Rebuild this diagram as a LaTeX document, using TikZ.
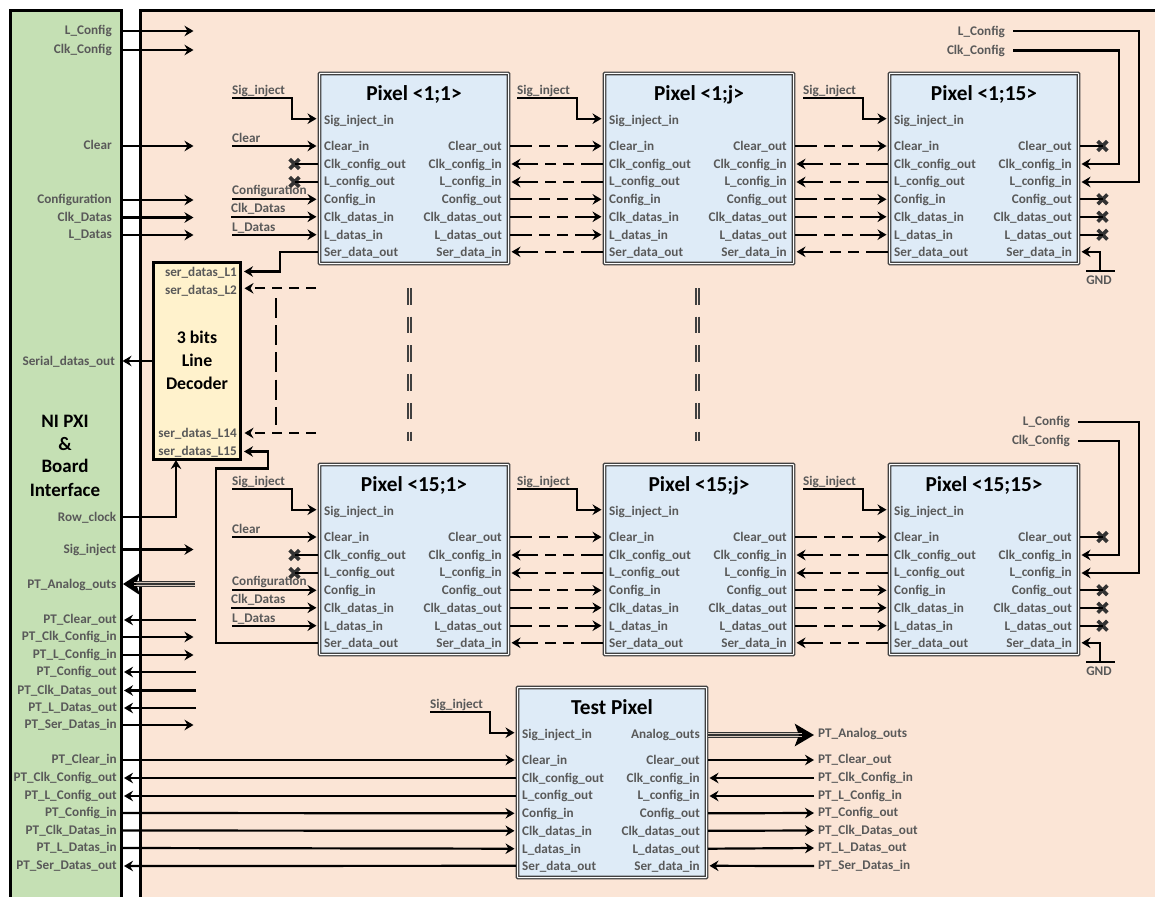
\documentclass[tikz,border=0pt]{standalone}
\usepackage{fontspec}
\setmainfont{Carlito}
\usetikzlibrary{arrows.meta,shapes.misc}
\definecolor{panelgreen}{HTML}{C5E0B4}
\definecolor{panelorange}{HTML}{FBE5D6}
\definecolor{pixelblue}{HTML}{DEEBF7}
\definecolor{decoyellow}{HTML}{FFF2CC}
\definecolor{labelgray}{HTML}{595959}
\tikzset{
  panelline/.style={line width=3pt,draw=black},
  wire/.style={line width=2.2pt,draw=black,line join=miter},
  arr/.style={wire,-{Stealth[length=9pt,width=10.5pt,inset=3pt]},shorten >=1.5pt},
  dashwire/.style={dash pattern=on 22pt off 7pt on 11pt off 7pt on 11pt off 7pt on 60pt},
  shortdash/.style={dash pattern=on 10pt off 7pt},
  lbl/.style={inner sep=0pt,yshift=-0.9pt,text=labelgray,font=\fontsize{13.2}{14}\selectfont\bfseries},
  lbR/.style={lbl,anchor=base east},
  lbL/.style={lbl,anchor=base west},
  pixelbox/.style={draw=black!75,line width=1.3pt,double=white,double distance=1pt,fill=pixelblue,inner sep=0pt,minimum width=189pt,minimum height=190pt,rounded corners=0.5pt},
  pixeltitle/.style={inner sep=0pt,anchor=base,yshift=-0.9pt,text=black,font=\fontsize{21.3}{24}\selectfont\bfseries},
  bigtext/.style={inner sep=0pt,anchor=base,text=black,font=\fontsize{19}{22}\selectfont\bfseries},
  decotext/.style={inner sep=0pt,anchor=base,yshift=-0.9pt,text=black,font=\fontsize{17.8}{20}\selectfont\bfseries},
  xmk/.style={cross out,draw=black!80,line width=3.6pt,minimum size=6pt,inner sep=0pt},
  bus/.style={line width=5.5pt,draw=black!80},
  busline/.style={line width=0.9pt,draw=panelorange!70!gray},
  dotted vert/.style={line width=1.4pt,draw=black!75,dash pattern=on 16.5pt off 12.2pt}
}
% #1 name, #2 x, #3 y, #4 title
\newcommand{\pixelblock}[4]{%
  \node[pixelbox] (#1) at (#2+96,#3+96.5) {};
  \node[pixeltitle] (#1-title) at (#2+96,#3+28) {#4};
  \coordinate (#1-sig) at (#2,#3+46.7);
  \coordinate (#1-cin) at (#2,#3+74);
  \coordinate (#1-cko) at (#2,#3+92);
  \coordinate (#1-lko) at (#2,#3+110);
  \coordinate (#1-cfi) at (#2,#3+127.3);
  \coordinate (#1-cdi) at (#2,#3+144.8);
  \coordinate (#1-ldi) at (#2,#3+162.7);
  \coordinate (#1-sdo) at (#2,#3+179.8);
  \coordinate (#1-cou) at (#2+192,#3+74);
  \coordinate (#1-cki) at (#2+192,#3+92);
  \coordinate (#1-lki) at (#2+192,#3+110);
  \coordinate (#1-cfo) at (#2+192,#3+127.3);
  \coordinate (#1-cdo) at (#2+192,#3+144.8);
  \coordinate (#1-ldo) at (#2+192,#3+162.7);
  \coordinate (#1-sdi) at (#2+192,#3+179.8);
  \node[lbL] (#1-l1) at (#2+6,#3+52) {Sig\_inject\_in};
  \node[lbL] (#1-l2) at (#2+6,#3+78) {Clear\_in};
  \node[lbL] (#1-l3) at (#2+6,#3+96) {Clk\_config\_out};
  \node[lbL] (#1-l4) at (#2+6,#3+113) {L\_config\_out};
  \node[lbL] (#1-l5) at (#2+6,#3+131) {Config\_in};
  \node[lbL] (#1-l6) at (#2+6,#3+149) {Clk\_datas\_in};
  \node[lbL] (#1-l7) at (#2+6,#3+167) {L\_datas\_in};
  \node[lbL] (#1-l8) at (#2+6,#3+184) {Ser\_data\_out};
  \node[lbR] (#1-r2) at (#2+184,#3+78) {Clear\_out};
  \node[lbR] (#1-r3) at (#2+184,#3+96) {Clk\_config\_in};
  \node[lbR] (#1-r4) at (#2+184,#3+113) {L\_config\_in};
  \node[lbR] (#1-r5) at (#2+184,#3+131) {Config\_out};
  \node[lbR] (#1-r6) at (#2+184,#3+149) {Clk\_datas\_out};
  \node[lbR] (#1-r7) at (#2+184,#3+167) {L\_datas\_out};
  \node[lbR] (#1-r8) at (#2+184,#3+184) {Ser\_data\_in};
}
% dashed links between neighbouring pixels
\newcommand{\pixellink}[2]{%
  \draw[arr,dashwire] (#1-cou) -- (#2-cin);
  \draw[arr,dashwire] (#2-cko) -- (#1-cki);
  \draw[arr,dashwire] (#2-lko) -- (#1-lki);
  \draw[arr,dashwire] (#1-cfo) -- (#2-cfi);
  \draw[arr,dashwire] (#1-cdo) -- (#2-cdi);
  \draw[arr,dashwire] (#1-ldo) -- (#2-ldi);
  \draw[arr,dashwire] (#2-sdo) -- (#1-sdi);
}
% stub ending in a cross: #1 pin, #2 x shift, #3 name
\newcommand{\crossstub}[3]{%
  \node[xmk] (#3) at ([xshift=#2pt]#1) {};
  \draw[wire] (#1) -- (#3.center);
}
% Sig_inject wire: #1 name, #2 x, #3 y of wire, #4 target pin
\newcommand{\siginject}[4]{%
  \node[lbL] (#1-lab) at (#2,#3-4.5) {Sig\_inject};
  \coordinate (#1-start) at (#2,#3);
  \coordinate (#1-knee) at (#2+60,#3);
  \draw[arr] (#1-start) -- (#1-knee) |- (#4);
}
% inputs of the first pixel of a row: #1 pixel, #2 y base
\newcommand{\rowinputs}[2]{%
  \node[lbL] (#1-clab) at (232,#2+69.7) {Clear};
  \coordinate (#1-cst) at (232,#2+74);
  \draw[arr] (#1-cst) -- (#1-cin);
  \node[lbL] (#1-flab) at (232,#2+122) {Configuration};
  \coordinate (#1-fst) at (232,#2+127.3);
  \draw[arr] (#1-fst) -- (#1-cfi);
  \node[lbL] (#1-dlab) at (231,#2+140) {Clk\_Datas};
  \coordinate (#1-dst) at (231,#2+144.8);
  \draw[arr] (#1-dst) -- (#1-cdi);
  \node[lbL] (#1-elab) at (232,#2+158.5) {L\_Datas};
  \coordinate (#1-est) at (232,#2+162.7);
  \draw[arr] (#1-est) -- (#1-ldi);
  \crossstub{#1-cko}{-23.5}{#1-xa}
  \crossstub{#1-lko}{-23.5}{#1-xb}
}
% right hand side of the last pixel: #1 pixel, #2 y of GND bar
\newcommand{\rowoutputs}[2]{%
  \crossstub{#1-cou}{22.5}{#1-xc}
  \crossstub{#1-cfo}{22.5}{#1-xd}
  \crossstub{#1-cdo}{22.5}{#1-xe}
  \crossstub{#1-ldo}{22.5}{#1-xf}
  \coordinate (#1-gl) at (1086,#2);
  \coordinate (#1-gr) at (1115,#2);
  \coordinate (#1-gc) at (1100,#2);
  \draw[wire] (#1-gl) -- (#1-gr);
  \draw[arr] (#1-gc) |- (#1-sdi);
  \node[lbl,anchor=base] (#1-gnd) at (1099,#2+12.5) {GND};
}
\begin{document}
\begin{tikzpicture}[x=1pt,y=-1pt]
\useasboundingbox (0,0) rectangle (1155,896);
\fill[white] (0,0) rectangle (1155,896);
% panels
\fill[panelgreen] (10.5,11) rectangle (121,900);
\draw[panelline] (10.5,900) -- (10.5,11) -- (121,11) -- (121,900);
\fill[panelorange] (140,11) rectangle (1155,900);
\draw[panelline] (140,900) -- (140,11) -- (1158,11);
% panel title
\node[bigtext] (ni1) at (65,427.5) {NI PXI};
\node[bigtext] (ni2) at (65,450) {\&};
\node[bigtext] (ni3) at (65,472.5) {Board};
\node[bigtext] (ni4) at (65,496) {Interface};

% pixel blocks
\pixelblock{pa}{318}{72}{Pixel <1;1>}
\pixelblock{pb}{603}{72}{Pixel <1;j>}
\pixelblock{pc}{888}{72}{Pixel <1;15>}
\pixelblock{pd}{318}{463}{Pixel <15;1>}
\pixelblock{pe}{603}{463}{Pixel <15;j>}
\pixelblock{pf}{888}{463}{Pixel <15;15>}
\pixelblock{pt}{516}{686}{Test Pixel}
\node[lbR] (pt-r1) at (700,738) {Analog\_outs};

% decoder
\node[draw=black,line width=3pt,fill=decoyellow,inner sep=0pt,minimum width=87pt,minimum height=197pt] (dec) at (197,361) {};
\node[decotext] (dec1) at (197,343) {3 bits};
\node[decotext] (dec2) at (197,366) {Line};
\node[decotext] (dec3) at (197,389) {Decoder};
\node[lbR] (dl1) at (237,275.5) {ser\_datas\_L1};
\node[lbR] (dl2) at (237,293.5) {ser\_datas\_L2};
\node[lbR] (dl14) at (237,437) {ser\_datas\_L14};
\node[lbR] (dl15) at (237,455) {ser\_datas\_L15};

% left panel rows
\foreach \n/\t/\y/\lx in {a/L\_Config/31/112,b/Clk\_Config/50/112,c/Clear/146/112,d/Configuration/200/112,e/Clk\_Datas/217.5/112,f/L\_Datas/235/112,g/Sig\_inject/549.5/116.5,h/PT\_Clk\_Config\_in/637/117,i/PT\_L\_Config\_in/655/117,j/PT\_Ser\_Datas\_in/725/117}{
  \node[lbR] (lab\n) at (\lx,\y+3) {\t};
  \coordinate (s\n) at (121,\y);
  \coordinate (e\n) at (195,\y);
  \draw[arr] (s\n) -- (e\n);
}
\foreach \n/\t/\y in {k/PT\_Clear\_out/620,l/PT\_Config\_out/672,m/PT\_Clk\_Datas\_out/690.5,n/PT\_L\_Datas\_out/708}{
  \node[lbR] (lab\n) at (117,\y+3) {\t};
  \coordinate (s\n) at (196,\y);
  \coordinate (e\n) at (124,\y);
  \draw[arr,shorten >=0pt] (s\n) -- (e\n);
}
% PT_Analog_outs bus
\node[lbR] (labbus) at (116.5,587.5) {PT\_Analog\_outs};
\coordinate (busa) at (195,584);
\coordinate (busb) at (123,584);
\coordinate (busc) at (134,584);
\draw[bus,-{Stealth[length=17pt,width=22pt,inset=4pt,black]}] (busa) -- (busb);
\draw[busline,transform canvas={yshift=1.2pt}] (busa) -- (busc);
\draw[busline,transform canvas={yshift=-1.2pt}] (busa) -- (busc);

% Serial_datas_out and Row_clock
\node[lbR] (labser) at (115,364.5) {Serial\_datas\_out};
\coordinate (serp) at (121,361);
\draw[arr] (dec.west |- serp) -- (serp);
\node[lbR] (labrow) at (116.5,520.5) {Row\_clock};
\coordinate (rows) at (121,517);
\coordinate (rowe) at (176,460);
\draw[arr,shorten >=0pt] (rows) -| (rowe);

% signal inputs row 1
\siginject{sa}{232}{98}{pa-sig}
\siginject{sb}{517}{98}{pb-sig}
\siginject{sc}{803}{98}{pc-sig}
\rowinputs{pa}{72}
\coordinate (l1p) at (242.5,271.5);
\coordinate (l1k) at (280,271.5);
\draw[arr] (pa-sdo) -| (l1k) -- (l1p);
\pixellink{pa}{pb}
\pixellink{pb}{pc}
\rowoutputs{pc}{271}
% configuration feed row 1
\node[lbR] (lc1) at (1005,34.5) {L\_Config};
\node[lbR] (lc2) at (1005,53.5) {Clk\_Config};
\coordinate (lc1s) at (1013,31);
\coordinate (lc2s) at (1013,50.5);
\coordinate (lc1k) at (1139,31);
\coordinate (lc2k) at (1119,50.5);
\draw[arr] (lc1s) -- (lc1k) |- (pc-lki);
\draw[arr] (lc2s) -- (lc2k) |- (pc-cki);

% signal inputs row 2
\siginject{sd}{232}{489}{pd-sig}
\siginject{se}{517}{489}{pe-sig}
\siginject{sf}{803}{489}{pf-sig}
\rowinputs{pd}{463}
\coordinate (l15k1) at (216,468.5);
\coordinate (l15k2) at (268,468.5);
\coordinate (l15p) at (242.5,451.5);
\draw[arr] (pd-sdo) -| (l15k1) -- (l15k2) |- (l15p);
\pixellink{pd}{pe}
\pixellink{pe}{pf}
\rowoutputs{pf}{662}
% configuration feed row 2
\node[lbR] (lc3) at (1070,425) {L\_Config};
\node[lbR] (lc4) at (1070,444) {Clk\_Config};
\coordinate (lc3s) at (1078,422);
\coordinate (lc4s) at (1078,441);
\coordinate (lc3k) at (1139,422);
\coordinate (lc4k) at (1119,441);
\draw[arr] (lc3s) -- (lc3k) |- (pf-lki);
\draw[arr] (lc4s) -- (lc4k) |- (pf-cki);

% decoder dashed rows
\coordinate (d2e) at (243,288.3);
\coordinate (d2s) at (316,288.3);
\coordinate (d14e) at (243,433);
\coordinate (d14s) at (316,433);
\coordinate (dvt) at (275.7,298);
\coordinate (dvb) at (275.7,425);
\draw[arr,shortdash] (d2s) -- (d2e);
\draw[arr,shortdash] (d14s) -- (d14e);
\draw[wire,dash pattern=on 20pt off 7.2pt] (dvt) -- (dvb);

% vertical ellipsis between rows
\coordinate (v1t) at (408,288);
\coordinate (v1b) at (408,441);
\coordinate (v2t) at (411,288);
\coordinate (v2b) at (411,441);
\coordinate (v3t) at (696,288);
\coordinate (v3b) at (696,441);
\coordinate (v4t) at (699,288);
\coordinate (v4b) at (699,441);
\draw[dotted vert] (v1t) -- (v1b);
\draw[dotted vert] (v2t) -- (v2b);
\draw[dotted vert] (v3t) -- (v3b);
\draw[dotted vert] (v4t) -- (v4b);

% test pixel
\siginject{st}{430}{712}{pt-sig}
\foreach \n/\t/\y/\p in {p/PT\_Clear\_in/760/cin,q/PT\_Config\_in/813/cfi,r/PT\_Clk\_Datas\_in/830.5/cdi,s/PT\_L\_Datas\_in/848/ldi}{
  \node[lbR] (lab\n) at (117,\y+3) {\t};
  \coordinate (s\n) at (121,\y);
  \draw[arr] (s\n) -- (pt-\p);
}
\foreach \n/\t/\y/\p in {t/PT\_Clk\_Config\_out/778/cko,u/PT\_L\_Config\_out/796/lko,v/PT\_Ser\_Datas\_out/866/sdo}{
  \node[lbR] (lab\n) at (117,\y+3) {\t};
  \coordinate (e\n) at (124,\y);
  \draw[arr,shorten >=0pt] (pt-\p) -- (e\n);
}
\foreach \n/\t/\y/\p in {aa/PT\_Clear\_out/760/cou,bb/PT\_Config\_out/813/cfo,cc/PT\_Clk\_Datas\_out/830.5/cdo,dd/PT\_L\_Datas\_out/848/ldo}{
  \node[lbL] (lab\n) at (818,\y+3) {\t};
  \coordinate (e\n) at (814,\y);
  \draw[arr,shorten >=0pt] (pt-\p) -- (e\n);
}
\foreach \n/\t/\y/\p in {ee/PT\_Clk\_Config\_in/778/cki,ff/PT\_L\_Config\_in/796/lki,gg/PT\_Ser\_Datas\_in/866/sdi}{
  \node[lbL] (lab\n) at (818,\y+3) {\t};
  \coordinate (s\n) at (814,\y);
  \draw[arr] (s\n) -- (pt-\p);
}
\node[lbL] (labhh) at (818,737) {PT\_Analog\_outs};
\coordinate (tbusa) at (708,735);
\coordinate (tbusb) at (814,735);
\coordinate (tbusc) at (802,735);
\draw[bus,-{Stealth[length=19pt,width=22pt,inset=4pt,black]}] (tbusa) -- (tbusb);
\draw[busline,transform canvas={yshift=1.2pt}] (tbusa) -- (tbusc);
\draw[busline,transform canvas={yshift=-1.2pt}] (tbusa) -- (tbusc);
\end{tikzpicture}
\end{document}
